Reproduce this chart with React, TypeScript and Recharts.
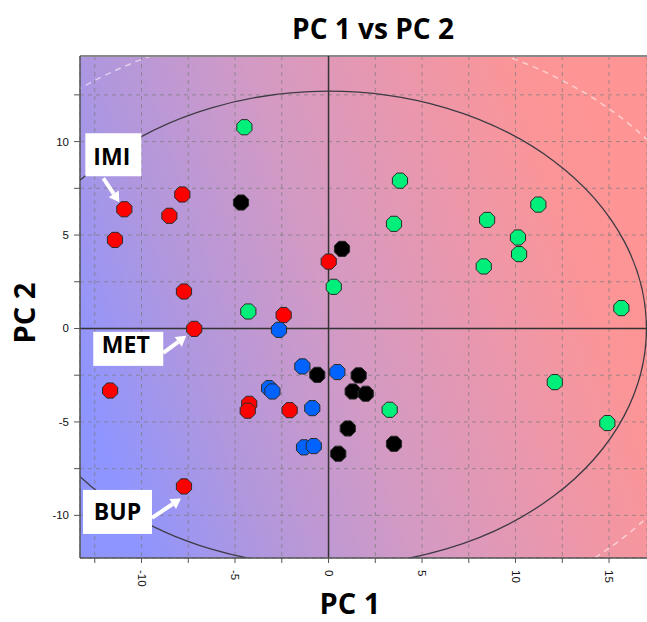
import React from 'react';
import {
  ScatterChart,
  Scatter,
  XAxis,
  YAxis,
  CartesianGrid,
  ReferenceLine,
  ReferenceArea,
  ReferenceDot,
} from 'recharts';

// ---------- data ----------
const X_TICKS = [-12.5, -10, -7.5, -5, -2.5, 0, 2.5, 5, 7.5, 10, 12.5, 15];
const Y_TICKS = [-10, -7.5, -5, -2.5, 0, 2.5, 5, 7.5, 10, 12.5];
const X_DOMAIN = [-13.29, 17.03];
const Y_DOMAIN = [-12.28, 14.58];

const redPoints = [
  [-10.92, 6.38], [-7.82, 7.17], [-8.51, 6.03], [-11.42, 4.74], [-7.73, 1.98],
  [-7.18, -0.02], [-11.68, -3.32], [-4.24, -4.03], [-4.32, -4.4], [-7.73, -8.45],
  [0.01, 3.58], [-2.4, 0.72], [-2.08, -4.37],
];
const greenPoints = [
  [-4.5, 10.77], [-4.29, 0.91], [3.5, 5.6], [0.28, 2.23], [3.27, -4.35],
  [3.82, 7.91], [11.22, 6.63], [8.48, 5.81], [10.13, 4.87], [10.19, 3.98],
  [8.3, 3.32], [15.66, 1.09], [12.1, -2.87], [14.91, -5.06],
];
const blackPoints = [
  [-4.68, 6.74], [0.72, 4.26], [-0.6, -2.48], [1.61, -2.51], [1.29, -3.37],
  [1.99, -3.49], [1.03, -5.35], [3.5, -6.17], [0.52, -6.7],
];
const bluePoints = [
  [-2.65, -0.07], [-1.4, -2.03], [0.47, -2.33], [-3.18, -3.19], [-3.0, -3.37],
  [-0.87, -4.26], [-1.31, -6.36], [-0.79, -6.29],
];

const ANNOTATIONS = [
  { label: 'IMI', x: -10.92, y: 6.38 },
  { label: 'MET', x: -7.18, y: -0.02 },
  { label: 'BUP', x: -7.73, y: -8.45 },
];

// confidence ellipses (semi-axes, in PC units)
const ELLIPSE_INNER = { a: 17, b: 12.7 };
const ELLIPSE_OUTER = { a: 21.8, b: 16.2 };

const toObjs = (arr: number[][]) => arr.map(([x, y]) => ({ x, y }));

// ---------- layout / style ----------
const W = 647;
const H = 622;
const FONT = "'Open Sans', 'DejaVu Sans', sans-serif";
const TICK_FONT = "'Liberation Sans', Arial, sans-serif";

const Octagon = (fill: string) => (props: any) => {
  const { cx, cy } = props;
  if (cx == null || cy == null) return <g />;
  const r = 8.2;
  const pts: string[] = [];
  for (let k = 0; k < 8; k++) {
    const ang = ((22.5 + 45 * k) * Math.PI) / 180;
    pts.push(`${cx + r * Math.cos(ang)},${cy + r * Math.sin(ang)}`);
  }
  return <polygon points={pts.join(' ')} fill={fill} stroke="#2a2a2a" strokeWidth={1} />;
};

const XTick = (props: any) => {
  const { x, y, payload } = props;
  const v = payload.value;
  if (Math.abs(v % 5) > 1e-6) return <g />;
  return (
    <text
      x={x}
      y={y}
      transform={`rotate(90, ${x}, ${y})`}
      textAnchor="start"
      dominantBaseline="central"
      fontFamily={TICK_FONT}
      fontSize={11.5}
      fill="#111"
    >
      {String(v)}
    </text>
  );
};

const YTick = (props: any) => {
  const { x, y, payload } = props;
  const v = payload.value;
  if (Math.abs(v % 5) > 1e-6) return <g />;
  return (
    <text
      x={x}
      y={y}
      textAnchor="end"
      dominantBaseline="central"
      fontFamily={TICK_FONT}
      fontSize={11.5}
      fill="#111"
    >
      {String(v)}
    </text>
  );
};

const EllipseShape = (stroke: string, width: number, dash?: string) => (props: any) => {
  const { x, y, width: w, height: h, clipPath } = props;
  if (x == null || w == null) return <g />;
  return (
    <ellipse
      cx={x + w / 2}
      cy={y + h / 2}
      rx={Math.abs(w / 2)}
      ry={Math.abs(h / 2)}
      fill="none"
      stroke={stroke}
      strokeWidth={width}
      strokeDasharray={dash}
      clipPath={clipPath}
    />
  );
};

function Arrow({ x1, y1, x2, y2 }: { x1: number; y1: number; x2: number; y2: number }) {
  const dx = x2 - x1;
  const dy = y2 - y1;
  const len = Math.hypot(dx, dy);
  const ux = dx / len;
  const uy = dy / len;
  const head = 10;
  const hw = 6;
  const bx = x2 - ux * head;
  const by = y2 - uy * head;
  const px = -uy;
  const py = ux;
  return (
    <g>
      <line x1={x1} y1={y1} x2={bx} y2={by} stroke="#ffffff" strokeWidth={4} />
      <polygon
        points={`${x2},${y2} ${bx + px * hw},${by + py * hw} ${bx - px * hw},${by - py * hw}`}
        fill="#ffffff"
      />
    </g>
  );
}

const LAYOUT: Record<string, any> = {
  IMI: { box: [-39, -76, 56, 43], text: [-12.5, -44], arrow: [-21, -31, -5, -7] },
  MET: { box: [-101, 3, 70, 34], text: [-68.5, 24.5], arrow: [-31, 24, -8, 7] },
  BUP: { box: [-101, 3.5, 69, 44], text: [-66.5, 33.5], arrow: [-32, 31.5, -3, 12] },
};

const AnnotationShape = (label: string) => (props: any) => {
  const { cx, cy } = props;
  if (cx == null || cy == null) return <g />;
  const L = LAYOUT[label];
  return (
    <g>
      <rect x={cx + L.box[0]} y={cy + L.box[1]} width={L.box[2]} height={L.box[3]} fill="#ffffff" />
      <text
        x={cx + L.text[0]}
        y={cy + L.text[1]}
        textAnchor="middle"
        fontFamily={FONT}
        fontWeight={700}
        fontSize={23}
        fill="#000"
      >
        {label}
      </text>
      <Arrow x1={cx + L.arrow[0]} y1={cy + L.arrow[1]} x2={cx + L.arrow[2]} y2={cy + L.arrow[3]} />
    </g>
  );
};

export default function App() {
  return (
    <div style={{ position: 'absolute', left: 0, top: 0, width: W, height: H, background: '#fff' }}>
      <svg width={0} height={0} style={{ position: 'absolute' }}>
        <defs>
          <linearGradient id="pcaBg" x1="0" y1="0.65" x2="1" y2="0.35">
            <stop offset="0" stopColor="#8e95ff" />
            <stop offset="0.2" stopColor="#b097de" />
            <stop offset="0.45" stopColor="#d39ac4" />
            <stop offset="0.68" stopColor="#ea97ad" />
            <stop offset="0.88" stopColor="#fb9597" />
            <stop offset="1" stopColor="#ff9494" />
          </linearGradient>
        </defs>
      </svg>
      <ScatterChart width={W} height={H} margin={{ top: 56, right: 0, bottom: 0, left: 0 }}>
        <CartesianGrid
          fill="url(#pcaBg)"
          stroke="#7c7c7c"
          strokeOpacity={0.7}
          strokeDasharray="4 4"
        />
        <XAxis
          type="number"
          dataKey="x"
          domain={X_DOMAIN}
          ticks={X_TICKS}
          allowDataOverflow
          height={64}
          tickSize={5}
          tickMargin={7}
          tick={<XTick />}
          axisLine={{ stroke: '#555', strokeWidth: 1.5 }}
          tickLine={{ stroke: '#555' }}
          interval={0}
        />
        <YAxis
          type="number"
          dataKey="y"
          domain={Y_DOMAIN}
          ticks={Y_TICKS}
          allowDataOverflow
          width={80}
          tickSize={6}
          tickMargin={5}
          tick={<YTick />}
          axisLine={{ stroke: '#555', strokeWidth: 1.5 }}
          tickLine={{ stroke: '#555' }}
          interval={0}
        />
        <ReferenceLine y={Y_DOMAIN[1]} stroke="#8a8a8a" strokeWidth={2} ifOverflow="visible" />
        <ReferenceArea
          x1={-ELLIPSE_OUTER.a}
          x2={ELLIPSE_OUTER.a}
          y1={-ELLIPSE_OUTER.b}
          y2={ELLIPSE_OUTER.b}
          ifOverflow="hidden"
          shape={EllipseShape('rgba(255,255,255,0.55)', 1.5, '6 5')}
        />
        <ReferenceArea
          x1={-ELLIPSE_INNER.a}
          x2={ELLIPSE_INNER.a}
          y1={-ELLIPSE_INNER.b}
          y2={ELLIPSE_INNER.b}
          ifOverflow="hidden"
          shape={EllipseShape('#3e3a44', 1.3)}
        />
        <ReferenceLine x={0} stroke="#333" strokeWidth={1.5} />
        <ReferenceLine y={0} stroke="#333" strokeWidth={1.5} />
        <Scatter data={toObjs(greenPoints)} shape={Octagon('#00ee7a')} isAnimationActive={false} />
        <Scatter data={toObjs(redPoints)} shape={Octagon('#ff0000')} isAnimationActive={false} />
        <Scatter data={toObjs(blackPoints)} shape={Octagon('#000000')} isAnimationActive={false} />
        <Scatter data={toObjs(bluePoints)} shape={Octagon('#0063ff')} isAnimationActive={false} />
        {ANNOTATIONS.map((a) => (
          <ReferenceDot
            key={a.label}
            x={a.x}
            y={a.y}
            r={0}
            ifOverflow="visible"
            shape={AnnotationShape(a.label)}
          />
        ))}
      </ScatterChart>
      <svg
        width={W}
        height={H}
        style={{ position: 'absolute', left: 0, top: 0, pointerEvents: 'none' }}
      >
        <text x={373} y={38.5} textAnchor="middle" fontFamily={FONT} fontWeight={700} fontSize={28} fill="#000">
          PC 1 vs PC 2
        </text>
        <text x={350} y={614} textAnchor="middle" fontFamily={FONT} fontWeight={700} fontSize={29} fill="#000">
          PC 1
        </text>
        <text
          x={35}
          y={313}
          textAnchor="middle"
          transform="rotate(-90, 35, 313)"
          fontFamily={FONT}
          fontWeight={700}
          fontSize={29}
          fill="#000"
        >
          PC 2
        </text>
      </svg>
    </div>
  );
}
